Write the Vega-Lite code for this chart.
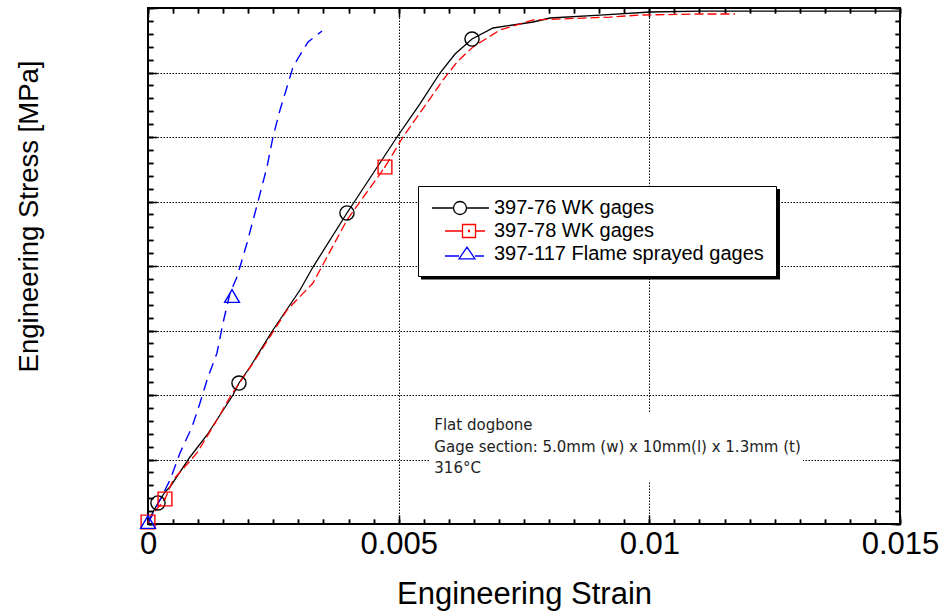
{
  "$schema": "https://vega.github.io/schema/vega-lite/v6.json",
  "width": 752,
  "height": 516,
  "autosize": "none",
  "padding": {"left": 148, "top": 8, "right": 44, "bottom": 91},
  "background": "white",
  "config": {
    "view": {"stroke": "black", "strokeWidth": 2},
    "font": "Liberation Sans",
    "axis": {"domain": false, "labelFont": "Liberation Sans", "titleFont": "Liberation Sans", "tickColor": "black", "labelColor": "black", "titleColor": "black", "titleFontWeight": "normal"}
  },
  "datasets": {
    "lines": [
      {"series": "397-76 WK gages", "strain": 0, "stress": 0},
      {"series": "397-76 WK gages", "strain": 0.00008, "stress": 0.155},
      {"series": "397-76 WK gages", "strain": 0.000199, "stress": 0.326},
      {"series": "397-76 WK gages", "strain": 0.000339, "stress": 0.496},
      {"series": "397-76 WK gages", "strain": 0.000439, "stress": 0.574},
      {"series": "397-76 WK gages", "strain": 0.000838, "stress": 1.039},
      {"series": "397-76 WK gages", "strain": 0.001177, "stress": 1.38},
      {"series": "397-76 WK gages", "strain": 0.001695, "stress": 2.0},
      {"series": "397-76 WK gages", "strain": 0.001815, "stress": 2.186},
      {"series": "397-76 WK gages", "strain": 0.002035, "stress": 2.434},
      {"series": "397-76 WK gages", "strain": 0.002493, "stress": 3.008},
      {"series": "397-76 WK gages", "strain": 0.003032, "stress": 3.628},
      {"series": "397-76 WK gages", "strain": 0.003291, "stress": 3.984},
      {"series": "397-76 WK gages", "strain": 0.003969, "stress": 4.822},
      {"series": "397-76 WK gages", "strain": 0.004967, "stress": 6.0},
      {"series": "397-76 WK gages", "strain": 0.005425, "stress": 6.512},
      {"series": "397-76 WK gages", "strain": 0.005824, "stress": 6.992},
      {"series": "397-76 WK gages", "strain": 0.006124, "stress": 7.287},
      {"series": "397-76 WK gages", "strain": 0.006463, "stress": 7.519},
      {"series": "397-76 WK gages", "strain": 0.006882, "stress": 7.69},
      {"series": "397-76 WK gages", "strain": 0.00768, "stress": 7.783},
      {"series": "397-76 WK gages", "strain": 0.008019, "stress": 7.845},
      {"series": "397-76 WK gages", "strain": 0.009016, "stress": 7.891},
      {"series": "397-76 WK gages", "strain": 0.010013, "stress": 7.938},
      {"series": "397-76 WK gages", "strain": 0.011011, "stress": 7.953},
      {"series": "397-76 WK gages", "strain": 0.013005, "stress": 7.953},
      {"series": "397-76 WK gages", "strain": 0.015, "stress": 7.953},
      {"series": "397-78 WK gages", "strain": 0, "stress": 0.031},
      {"series": "397-78 WK gages", "strain": 0.00016, "stress": 0.217},
      {"series": "397-78 WK gages", "strain": 0.000339, "stress": 0.388},
      {"series": "397-78 WK gages", "strain": 0.000499, "stress": 0.682},
      {"series": "397-78 WK gages", "strain": 0.000977, "stress": 1.101},
      {"series": "397-78 WK gages", "strain": 0.001376, "stress": 1.612},
      {"series": "397-78 WK gages", "strain": 0.001636, "stress": 1.969},
      {"series": "397-78 WK gages", "strain": 0.002174, "stress": 2.589},
      {"series": "397-78 WK gages", "strain": 0.002773, "stress": 3.318},
      {"series": "397-78 WK gages", "strain": 0.003291, "stress": 3.736},
      {"series": "397-78 WK gages", "strain": 0.003969, "stress": 4.713},
      {"series": "397-78 WK gages", "strain": 0.004727, "stress": 5.535},
      {"series": "397-78 WK gages", "strain": 0.005086, "stress": 6.0},
      {"series": "397-78 WK gages", "strain": 0.005565, "stress": 6.527},
      {"series": "397-78 WK gages", "strain": 0.005884, "stress": 6.884},
      {"series": "397-78 WK gages", "strain": 0.006184, "stress": 7.18},
      {"series": "397-78 WK gages", "strain": 0.006483, "stress": 7.395},
      {"series": "397-78 WK gages", "strain": 0.007021, "stress": 7.659},
      {"series": "397-78 WK gages", "strain": 0.00768, "stress": 7.814},
      {"series": "397-78 WK gages", "strain": 0.009215, "stress": 7.86},
      {"series": "397-78 WK gages", "strain": 0.009814, "stress": 7.891},
      {"series": "397-78 WK gages", "strain": 0.011011, "stress": 7.907},
      {"series": "397-78 WK gages", "strain": 0.011709, "stress": 7.907},
      {"series": "397-117 Flame sprayed gages", "strain": 0, "stress": 0.016},
      {"series": "397-117 Flame sprayed gages", "strain": 0.000239, "stress": 0.372},
      {"series": "397-117 Flame sprayed gages", "strain": 0.000439, "stress": 0.682},
      {"series": "397-117 Flame sprayed gages", "strain": 0.000638, "stress": 1.101},
      {"series": "397-117 Flame sprayed gages", "strain": 0.000878, "stress": 1.504},
      {"series": "397-117 Flame sprayed gages", "strain": 0.001037, "stress": 1.876},
      {"series": "397-117 Flame sprayed gages", "strain": 0.001197, "stress": 2.279},
      {"series": "397-117 Flame sprayed gages", "strain": 0.001376, "stress": 2.651},
      {"series": "397-117 Flame sprayed gages", "strain": 0.001496, "stress": 3.116},
      {"series": "397-117 Flame sprayed gages", "strain": 0.001636, "stress": 3.581},
      {"series": "397-117 Flame sprayed gages", "strain": 0.001775, "stress": 3.829},
      {"series": "397-117 Flame sprayed gages", "strain": 0.001975, "stress": 4.357},
      {"series": "397-117 Flame sprayed gages", "strain": 0.002134, "stress": 4.822},
      {"series": "397-117 Flame sprayed gages", "strain": 0.002374, "stress": 5.535},
      {"series": "397-117 Flame sprayed gages", "strain": 0.002493, "stress": 6.0},
      {"series": "397-117 Flame sprayed gages", "strain": 0.002633, "stress": 6.419},
      {"series": "397-117 Flame sprayed gages", "strain": 0.002773, "stress": 6.775},
      {"series": "397-117 Flame sprayed gages", "strain": 0.002892, "stress": 7.085},
      {"series": "397-117 Flame sprayed gages", "strain": 0.003032, "stress": 7.271},
      {"series": "397-117 Flame sprayed gages", "strain": 0.003192, "stress": 7.473},
      {"series": "397-117 Flame sprayed gages", "strain": 0.003471, "stress": 7.643}
    ],
    "markers": [
      {"series": "397-76 WK gages", "strain": 0.000199, "stress": 0.326},
      {"series": "397-76 WK gages", "strain": 0.001815, "stress": 2.186},
      {"series": "397-76 WK gages", "strain": 0.003969, "stress": 4.822},
      {"series": "397-76 WK gages", "strain": 0.006463, "stress": 7.519},
      {"series": "397-78 WK gages", "strain": 0, "stress": 0.031},
      {"series": "397-78 WK gages", "strain": 0.000339, "stress": 0.388},
      {"series": "397-78 WK gages", "strain": 0.004727, "stress": 5.535},
      {"series": "397-117 Flame sprayed gages", "strain": 0, "stress": 0.031},
      {"series": "397-117 Flame sprayed gages", "strain": 0.001676, "stress": 3.535}
    ]
  },
  "resolve": {"axis": {"x": "independent", "y": "independent"}},
  "layer": [
    {
      "data": {"values": [{}]},
      "mark": {"type": "rect", "color": "black"},
      "encoding": {
        "x": {"datum": 0.005445, "type": "quantitative", "scale": {"domain": [0, 0.015], "nice": false, "zero": false}, "axis": null},
        "x2": {"datum": 0.012606},
        "y": {"datum": 5.194, "type": "quantitative", "scale": {"domain": [0, 8], "nice": false}, "axis": null},
        "y2": {"datum": 3.79}
      }
    },
    {
      "data": {"values": [{}]},
      "mark": {"type": "rect", "color": "white"},
      "encoding": {
        "x": {"datum": 0.005625, "type": "quantitative", "axis": null},
        "x2": {"datum": 0.013065},
        "y": {"datum": 1.721, "type": "quantitative", "axis": null},
        "y2": {"datum": 0.651}
      }
    },
    {
      "data": {"name": "lines"},
      "transform": [{"filter": "datum.series === '397-76 WK gages'"}],
      "mark": {"type": "line", "strokeWidth": 1.3, "color": "#000000", "clip": true},
      "encoding": {
        "x": {"field": "strain", "type": "quantitative",
          "axis": {"orient": "bottom", "offset": -5, "values": [0, 0.0005, 0.001, 0.0015, 0.002, 0.0025, 0.003, 0.0035, 0.004, 0.0045, 0.005, 0.0055, 0.006, 0.0065, 0.007, 0.0075, 0.008, 0.0085, 0.009, 0.0095, 0.01, 0.0105, 0.011, 0.0115, 0.012, 0.0125, 0.013, 0.0135, 0.014, 0.0145, 0.015],
            "labelExpr": "abs(datum.value * 200 - round(datum.value * 200)) < 0.001 ? (datum.value == 0 ? '0' : format(datum.value, '.3~f')) : ''",
            "labelFontSize": 31, "labelBaseline": "alphabetic", "labelPadding": 29, "labelFlush": false, "labelOverlap": false, "labelBound": false,
            "ticks": true, "tickSize": 5, "tickWidth": 1.5, "grid": false,
            "title": "Engineering Strain", "titleFontSize": 31, "titleBaseline": "alphabetic", "titleY": 84, "titleX": 376, "titleAlign": "center"}},
        "y": {"field": "stress", "type": "quantitative",
          "axis": {"orient": "left", "offset": -5, "values": [0, 0.2, 0.4, 0.6, 0.8, 1, 1.2, 1.4, 1.6, 1.8, 2, 2.2, 2.4, 2.6, 2.8, 3, 3.2, 3.4, 3.6, 3.8, 4, 4.2, 4.4, 4.6, 4.8, 5, 5.2, 5.4, 5.6, 5.8, 6, 6.2, 6.4, 6.6, 6.8, 7, 7.2, 7.4, 7.6, 7.8, 8],
            "labels": false, "ticks": true, "tickSize": 5, "tickWidth": 1.5, "grid": false,
            "title": "Engineering Stress [MPa]", "titleFontSize": 27.5, "titleAngle": -90, "titleBaseline": "alphabetic", "titleAlign": "center", "titleX": -116, "titleY": 208}}
      }
    },
    {
      "data": {"name": "lines"},
      "transform": [{"filter": "datum.series === '397-78 WK gages'"}],
      "mark": {"type": "line", "strokeWidth": 1.3, "color": "#ff0000", "strokeDash": [9, 4], "clip": true},
      "encoding": {
        "x": {"field": "strain", "type": "quantitative",
          "axis": {"orient": "top", "offset": -5, "values": [0, 0.0005, 0.001, 0.0015, 0.002, 0.0025, 0.003, 0.0035, 0.004, 0.0045, 0.005, 0.0055, 0.006, 0.0065, 0.007, 0.0075, 0.008, 0.0085, 0.009, 0.0095, 0.01, 0.0105, 0.011, 0.0115, 0.012, 0.0125, 0.013, 0.0135, 0.014, 0.0145, 0.015], "labels": false, "grid": false, "ticks": true, "tickSize": 5, "tickWidth": 1.5, "title": null}},
        "y": {"field": "stress", "type": "quantitative",
          "axis": {"orient": "right", "offset": -5, "values": [0, 0.2, 0.4, 0.6, 0.8, 1, 1.2, 1.4, 1.6, 1.8, 2, 2.2, 2.4, 2.6, 2.8, 3, 3.2, 3.4, 3.6, 3.8, 4, 4.2, 4.4, 4.6, 4.8, 5, 5.2, 5.4, 5.6, 5.8, 6, 6.2, 6.4, 6.6, 6.8, 7, 7.2, 7.4, 7.6, 7.8, 8], "labels": false, "grid": false, "ticks": true, "tickSize": 5, "tickWidth": 1.5, "title": null}}
      }
    },
    {
      "data": {"name": "lines"},
      "transform": [{"filter": "datum.series === '397-117 Flame sprayed gages'"}],
      "mark": {"type": "line", "strokeWidth": 1.4, "color": "#0000ff", "strokeDash": [11, 7], "clip": true},
      "encoding": {
        "x": {"field": "strain", "type": "quantitative",
          "axis": {"orient": "bottom", "values": [0, 0.005, 0.01, 0.015], "labels": false, "ticks": false, "grid": true, "gridColor": "black", "gridDash": [1.5, 1.5], "gridWidth": 1, "gridOpacity": 1, "title": null}},
        "y": {"field": "stress", "type": "quantitative",
          "axis": {"orient": "left", "values": [0, 1, 2, 3, 4, 5, 6, 7, 8], "labels": false, "ticks": false, "grid": true, "gridColor": "black", "gridDash": [1.5, 1.5], "gridWidth": 1, "gridOpacity": 1, "title": null}}
      }
    },
    {
      "data": {"name": "markers"},
      "transform": [{"filter": "datum.series === '397-76 WK gages'"}],
      "mark": {"type": "point", "shape": "circle", "filled": false, "size": 200, "strokeWidth": 1.4, "color": "#000000", "opacity": 1},
      "encoding": {
        "x": {"field": "strain", "type": "quantitative",
          "axis": {"orient": "top", "offset": -9, "values": [0, 0.005, 0.01, 0.015], "labels": false, "grid": false, "ticks": true, "tickSize": 9, "tickWidth": 1.5, "title": null}},
        "y": {"field": "stress", "type": "quantitative",
          "axis": {"orient": "right", "offset": -9, "values": [0, 1, 2, 3, 4, 5, 6, 7, 8], "labels": false, "grid": false, "ticks": true, "tickSize": 9, "tickWidth": 1.5, "title": null}}
      }
    },
    {
      "data": {"name": "markers"},
      "transform": [{"filter": "datum.series === '397-78 WK gages'"}],
      "mark": {"type": "point", "shape": "square", "filled": false, "size": 190, "strokeWidth": 1.4, "color": "#ff0000", "opacity": 1},
      "encoding": {
        "x": {"field": "strain", "type": "quantitative",
          "axis": {"orient": "bottom", "offset": -9, "values": [0, 0.005, 0.01, 0.015], "labels": false, "grid": false, "ticks": true, "tickSize": 9, "tickWidth": 1.5, "title": null}},
        "y": {"field": "stress", "type": "quantitative",
          "axis": {"orient": "left", "offset": -9, "values": [0, 1, 2, 3, 4, 5, 6, 7, 8], "labels": false, "grid": false, "ticks": true, "tickSize": 9, "tickWidth": 1.5, "title": null}}
      }
    },
    {
      "data": {"name": "markers"},
      "transform": [{"filter": "datum.series === '397-78 WK gages'"}],
      "mark": {"type": "point", "shape": "square", "filled": true, "size": 3, "color": "#ff0000", "opacity": 1},
      "encoding": {
        "x": {"field": "strain", "type": "quantitative",
          "axis": {"orient": "top", "offset": -5, "values": [0, 0.0005, 0.001, 0.0015, 0.002, 0.0025, 0.003, 0.0035, 0.004, 0.0045, 0.005, 0.0055, 0.006, 0.0065, 0.007, 0.0075, 0.008, 0.0085, 0.009, 0.0095, 0.01, 0.0105, 0.011, 0.0115, 0.012, 0.0125, 0.013, 0.0135, 0.014, 0.0145, 0.015], "labels": false, "grid": false, "ticks": true, "tickSize": 5, "tickWidth": 1.5, "title": null}},
        "y": {"field": "stress", "type": "quantitative",
          "axis": {"orient": "right", "offset": -5, "values": [0, 0.2, 0.4, 0.6, 0.8, 1, 1.2, 1.4, 1.6, 1.8, 2, 2.2, 2.4, 2.6, 2.8, 3, 3.2, 3.4, 3.6, 3.8, 4, 4.2, 4.4, 4.6, 4.8, 5, 5.2, 5.4, 5.6, 5.8, 6, 6.2, 6.4, 6.6, 6.8, 7, 7.2, 7.4, 7.6, 7.8, 8], "labels": false, "grid": false, "ticks": true, "tickSize": 5, "tickWidth": 1.5, "title": null}}
      }
    },
    {
      "data": {"name": "markers"},
      "transform": [{"filter": "datum.series === '397-117 Flame sprayed gages'"}],
      "mark": {"type": "point", "shape": "triangle-up", "filled": false, "size": 220, "strokeWidth": 1.4, "color": "#0000ff", "opacity": 1},
      "encoding": {
        "x": {"field": "strain", "type": "quantitative",
          "axis": {"orient": "bottom", "offset": -5, "values": [0, 0.0005, 0.001, 0.0015, 0.002, 0.0025, 0.003, 0.0035, 0.004, 0.0045, 0.005, 0.0055, 0.006, 0.0065, 0.007, 0.0075, 0.008, 0.0085, 0.009, 0.0095, 0.01, 0.0105, 0.011, 0.0115, 0.012, 0.0125, 0.013, 0.0135, 0.014, 0.0145, 0.015], "labels": false, "grid": false, "ticks": true, "tickSize": 5, "tickWidth": 1.5, "title": null}},
        "y": {"field": "stress", "type": "quantitative",
          "axis": {"orient": "left", "offset": -5, "values": [0, 0.2, 0.4, 0.6, 0.8, 1, 1.2, 1.4, 1.6, 1.8, 2, 2.2, 2.4, 2.6, 2.8, 3, 3.2, 3.4, 3.6, 3.8, 4, 4.2, 4.4, 4.6, 4.8, 5, 5.2, 5.4, 5.6, 5.8, 6, 6.2, 6.4, 6.6, 6.8, 7, 7.2, 7.4, 7.6, 7.8, 8], "labels": false, "grid": false, "ticks": true, "tickSize": 5, "tickWidth": 1.5, "title": null}}
      }
    },
    {
      "data": {"values": [{}]},
      "mark": {"type": "text", "align": "left", "baseline": "alphabetic", "fontSize": 15, "lineHeight": 21.5, "font": "DejaVu Sans", "color": "#222222",
        "text": ["Flat dogbone", "Gage section: 5.0mm (w) x 10mm(l) x 1.3mm (t)", "316°C"]},
      "encoding": {
        "x": {"datum": 0.005711, "type": "quantitative", "axis": null},
        "y": {"datum": 1.457, "type": "quantitative", "axis": null}
      }
    },
    {
      "data": {"name": "markers"},
      "mark": {"type": "point", "filled": false, "size": 256, "opacity": 0},
      "encoding": {
        "x": {"field": "strain", "type": "quantitative", "axis": null},
        "y": {"field": "stress", "type": "quantitative", "axis": null},
        "color": {"field": "series", "type": "nominal",
          "scale": {"domain": ["397-76 WK gages", "397-78 WK gages", "397-117 Flame sprayed gages"], "range": ["#000000", "#ff0000", "#0000ff"]},
          "legend": {"orient": "none", "legendX": 270, "legendY": 178, "title": null, "fillColor": "white", "strokeColor": "black", "padding": 12, "rowPadding": 3,
            "labelFont": "Liberation Sans", "labelFontSize": 20, "labelLimit": 500, "symbolSize": 256, "labelOffset": 44, "symbolStrokeWidth": 1.3, "symbolOpacity": 1, "symbolFillColor": "transparent",
            "encode": {"labels": {"update": {"fill": {"scale": "color", "field": "value"}}}}}},
        "shape": {"field": "series", "type": "nominal",
          "scale": {"domain": ["397-76 WK gages", "397-78 WK gages", "397-117 Flame sprayed gages"],
            "range": ["M-1,0H1.6875M3.3125,0H6.125M1.6875,0A0.8125,0.8125,0,1,1,3.3125,0A0.8125,0.8125,0,1,1,1.6875,0Z", "M0.625,0H2.8125M4.4375,0H5.625M2.8125,-0.8125H4.4375V0.8125H2.8125ZM3.57,-0.06H3.68V0.06H3.57Z", "M0.625,0.25H2.375M4.375,0.25H5.5M2.375,0.6L3.375,-0.85L4.375,0.6Z"]},
          "legend": {"orient": "none", "legendX": 270, "legendY": 178, "title": null}}
      }
    }
  ]
}
